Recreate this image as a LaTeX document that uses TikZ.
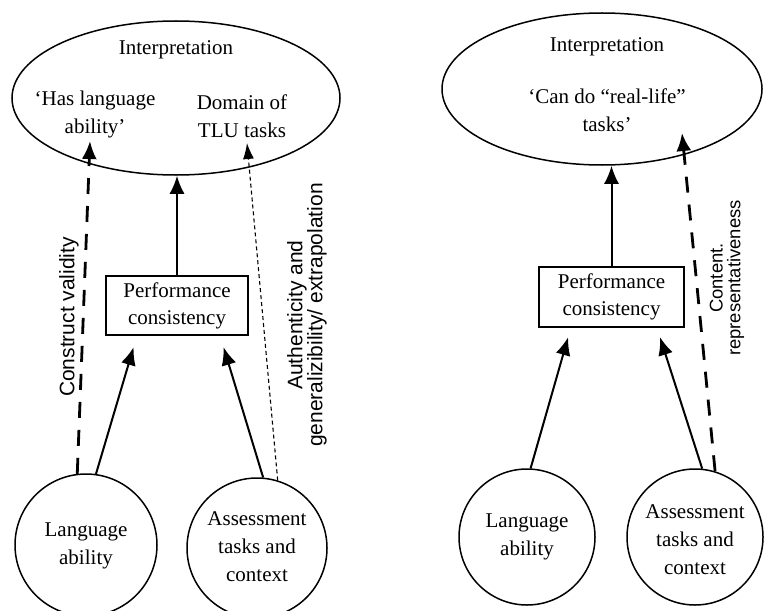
\documentclass[tikz,border=0pt]{standalone}
\usepackage{fontspec}
\setmainfont{Liberation Serif}
\setsansfont{Liberation Sans}
\usetikzlibrary{arrows.meta,shapes.geometric}
\tikzset{
  bubble/.style={draw,circle,line width=0.75pt,inner sep=0pt,minimum size=#1},
  oval/.style={draw,ellipse,line width=0.75pt,inner sep=0pt},
  pbox/.style={draw,rectangle,line width=0.65pt,inner sep=0pt,minimum width=71pt,minimum height=29.5pt,align=center,font=\fontsize{10.5}{13.5}\selectfont},
  txt/.style={align=center,inner sep=0pt,font=\fontsize{10.5}{14}\selectfont},
  side/.style={rotate=90,align=center,inner sep=0pt,font=\sffamily\fontsize{10.5}{10}\selectfont},
  arr/.style={-{Latex[length=9pt,width=7.5pt]},line width=1pt},
  bigdash/.style={arr,line width=1.4pt,dash pattern=on 8pt off 6pt},
  smalldash/.style={-{Latex[length=8pt,width=5.5pt]},line width=0.55pt,dash pattern=on 2pt off 1.5pt},
}
\begin{document}
\begin{tikzpicture}[x=0.5pt,y=-0.5pt]
\useasboundingbox (0,0) rectangle (764,610);
% left diagram
\draw (176,98) node[oval,minimum width=164pt,minimum height=77pt] (lell) {};
\draw (176,50) node[txt] (linterp) {Interpretation};
\draw (95,114) node[txt] (lhas) {‘Has language\\ability’};
\draw (242,116) node[txt] (ldom) {Domain of\\TLU tasks};
\draw (177,305.5) node[pbox] (lbox) {Performance\\consistency};
\draw (86,545) node[bubble=71pt] (llang) {};
\draw (86,546) node[txt] (llangt) {Language\\ability};
\draw (257,548) node[bubble=70pt] (lass) {};
\draw (257,547) node[txt] (lasst) {Assessment\\tasks and\\context};
\coordinate (lcv) at (90,141);
\coordinate (ltlu) at (247,143);
\draw[arr] (lbox.north) -- (lbox.north |- lell.south);
\draw[arr,shorten >=6pt] (llang.82) -- (lbox.217);
\draw[arr,shorten >=6pt] (lass.85) -- (lbox.325);
\draw[bigdash] (llang.97) -- (lcv);
\draw[smalldash] (lass.73) -- (ltlu);
\draw (69,317) node[side] (lcvt) {Construct validity};
\draw (307,315) node[side] (lautht) {Authenticity and\\generalizibility/ extrapolation};
% right diagram
\draw (602,89) node[oval,minimum width=160pt,minimum height=76pt] (rell) {};
\draw (607,47) node[txt] (rinterp) {Interpretation};
\draw (607,110) node[txt] (rcan) {‘Can do “real-life”\\tasks’};
\draw (611.5,297) node[pbox,minimum width=72.5pt,minimum height=30pt] (rbox) {Performance\\consistency};
\draw (527,537) node[bubble=68pt] (rlang) {};
\draw (527,537) node[txt] (rlangt) {Language\\ability};
\draw (695,537) node[bubble=68pt] (rass) {};
\draw (695,540) node[txt] (rasst) {Assessment\\tasks and\\context};
\coordinate (rcr) at (682,133);
\draw[arr] (rbox.north) -- (rbox.north |- rell.south);
\draw[arr,shorten >=5pt] (rlang.87) -- (rbox.217);
\draw[arr,shorten >=5pt] (rass.84) -- (rbox.326);
\draw[bigdash] (rass.73) -- (rcr);
\draw (727,278) node[side,font=\sffamily\fontsize{9.2}{8.8}\selectfont] (rcrt) {Content.\\representativeness};
\end{tikzpicture}
\end{document}
